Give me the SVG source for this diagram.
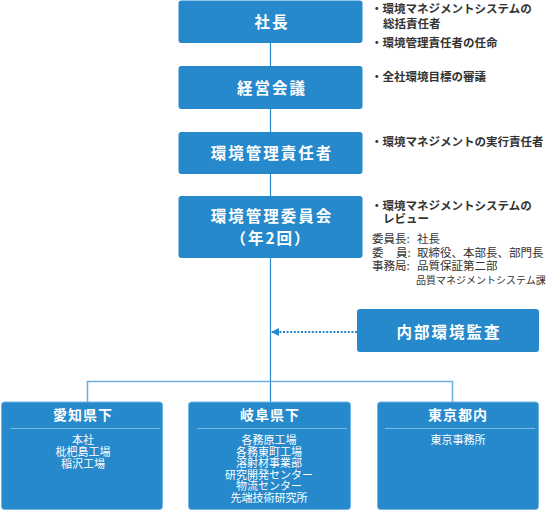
<svg xmlns="http://www.w3.org/2000/svg" width="550" height="511" viewBox="0 0 550 511">
<style>
text{font-family:"Noto Sans CJK JP","Noto Sans",sans-serif}
.box{fill:#2589cc}
.bbox{fill:#2589cc;stroke:#74b5e3;stroke-width:1}
.bt{fill:#fff;font-weight:bold;font-size:15.5px;text-anchor:middle;letter-spacing:2px}
.ht{fill:#fff;font-weight:bold;font-size:14px;text-anchor:middle;letter-spacing:1px}
.lt{fill:#fff;font-size:11px;text-anchor:middle}
.sep{stroke:#7dbbe6;stroke-width:1.2}
.note{fill:#333;font-size:11.5px;font-weight:bold}
.mem{fill:#333;font-size:11.5px}
.cn{stroke:#2589cc;stroke-width:1.2;fill:none}
.br{stroke:#6aaee0;stroke-width:1.5;fill:none}
</style>
<defs>
<marker id="ah" markerWidth="8" markerHeight="8" refX="7" refY="4" orient="auto" markerUnits="userSpaceOnUse">
<path d="M0,0 L8,4 L0,8 Z" fill="#2589cc"/>
</marker>
</defs>
<g id="connectors">
<line class="cn" x1="270.5" y1="43" x2="270.5" y2="402"/>
<path class="br" d="M87.5,402 V381.5 H452.5 V402"/>
<line x1="357" y1="332" x2="272" y2="332" stroke="#2589cc" stroke-width="2" stroke-dasharray="2,1.6" marker-end="url(#ah)"/>
</g>
<g id="shacho">
<rect class="box" x="178.5" y="0.5" width="184" height="42.5" rx="3"/>
<text class="bt" x="272" y="28">社長</text>
</g>
<g id="keiei">
<rect class="box" x="178.5" y="66" width="184" height="43" rx="3"/>
<text class="bt" x="272" y="94">経営会議</text>
</g>
<g id="sekinin">
<rect class="box" x="178.5" y="132" width="184" height="42" rx="3"/>
<text class="bt" x="272" y="159">環境管理責任者</text>
</g>
<g id="iinkai">
<rect class="box" x="178.5" y="196" width="184" height="62" rx="3"/>
<text class="bt" x="272" y="222">環境管理委員会</text>
<text class="bt" x="271" y="244">（年2回）</text>
</g>
<g id="kansa">
<rect class="box" x="357" y="309" width="182" height="43" rx="3"/>
<text class="bt" x="449" y="338">内部環境監査</text>
</g>
<g id="notes">
<text class="note" x="371" y="13">・環境マネジメントシステムの</text>
<text class="note" x="383" y="28">総括責任者</text>
<text class="note" x="371" y="47">・環境管理責任者の任命</text>
<text class="note" x="371" y="81">・全社環境目標の審議</text>
<text class="note" x="371" y="146">・環境マネジメントの実行責任者</text>
<text class="note" x="371" y="210">・環境マネジメントシステムの</text>
<text class="note" x="383" y="223">レビュー</text>
<text class="mem" x="372" y="243">委員長:</text>
<text class="mem" x="417" y="243">社長</text>
<text class="mem" x="372" y="257">委</text>
<text class="mem" x="396" y="257">員:</text>
<text class="mem" x="417" y="257">取締役、本部長、部門長</text>
<text class="mem" x="372" y="270">事務局:</text>
<text class="mem" x="417" y="270">品質保証第二部</text>
<text class="mem" x="416" y="284" style="font-size:10px">品質マネジメントシステム課</text>
</g>
<g id="aichi">
<rect class="bbox" x="1.5" y="402" width="161" height="107.5" rx="3"/>
<text class="ht" x="83" y="420">愛知県下</text>
<line class="sep" x1="10" y1="428.5" x2="160" y2="428.5"/>
<text class="lt" x="83" y="444">本社</text>
<text class="lt" x="83" y="456">枇杷島工場</text>
<text class="lt" x="83" y="468">稲沢工場</text>
</g>
<g id="gifu">
<rect class="bbox" x="188.5" y="402" width="162" height="107.5" rx="3"/>
<text class="ht" x="270" y="420">岐阜県下</text>
<line class="sep" x1="197" y1="428.5" x2="347" y2="428.5"/>
<text class="lt" x="269" y="444">各務原工場</text>
<text class="lt" x="269" y="455.6">各務東町工場</text>
<text class="lt" x="269" y="467.2">溶射材事業部</text>
<text class="lt" x="269" y="478.8">研究開発センター</text>
<text class="lt" x="269" y="490.4">物流センター</text>
<text class="lt" x="269" y="502">先端技術研究所</text>
</g>
<g id="tokyo">
<rect class="bbox" x="377.5" y="402" width="161" height="107.5" rx="3"/>
<text class="ht" x="458" y="420">東京都内</text>
<line class="sep" x1="385" y1="428.5" x2="535" y2="428.5"/>
<text class="lt" x="458" y="444">東京事務所</text>
</g>
</svg>
